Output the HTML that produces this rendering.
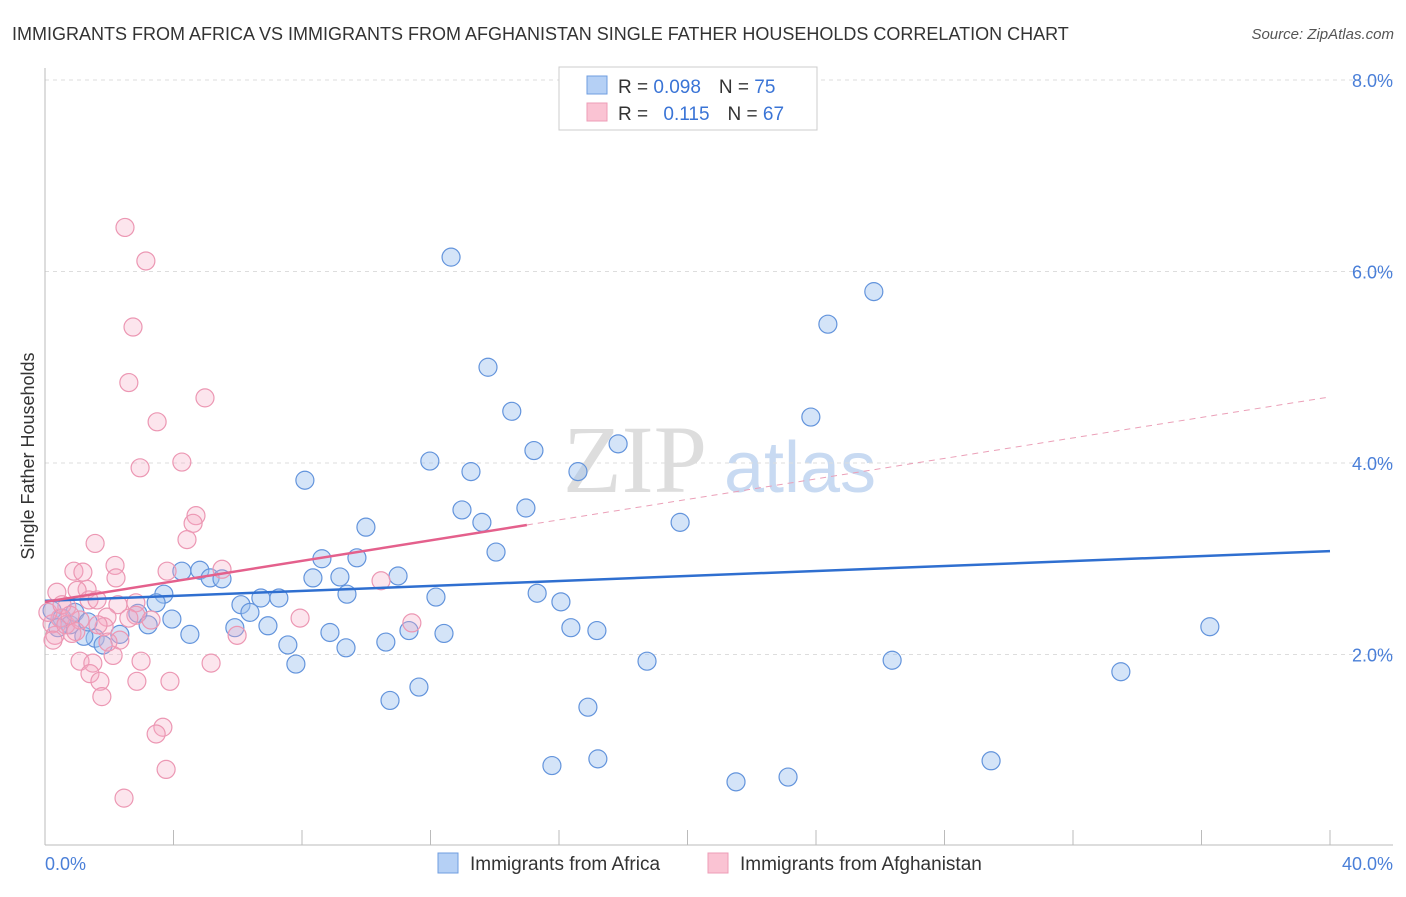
<!DOCTYPE html>
<html><head><meta charset="utf-8"><style>
body{margin:0;background:#fff;font-family:"Liberation Sans",sans-serif;}
</style></head><body>
<svg width="1406" height="892" xmlns="http://www.w3.org/2000/svg" style="font-family:'Liberation Sans',sans-serif">
<text x="12" y="40" font-size="18" fill="#333">IMMIGRANTS FROM AFRICA VS IMMIGRANTS FROM AFGHANISTAN SINGLE FATHER HOUSEHOLDS CORRELATION CHART</text>
<text x="1394" y="39" font-size="15" fill="#555" font-style="italic" text-anchor="end">Source: ZipAtlas.com</text>
<g><text x="635" y="492" font-size="96" fill="#ddd" font-family="Liberation Serif,serif" text-anchor="middle">ZIP</text><text x="800" y="492" font-size="72" fill="#c8daf2" text-anchor="middle">atlas</text></g>
<g id="grid"></g><g id="axes"></g><g id="pts"></g><g id="trends"></g>
<text transform="translate(34,456) rotate(-90)" font-size="18" fill="#333" text-anchor="middle">Single Father Households</text>
<text x="45" y="870" font-size="18" fill="#4a7fd8">0.0%</text>
<text x="1393" y="870" font-size="18" fill="#4a7fd8" text-anchor="end">40.0%</text>
<g>
<rect x="559" y="67" width="258" height="63" fill="#fff" stroke="#ccc"/>
<rect x="587" y="76" width="20" height="18" fill="#b5d0f5" stroke="#6f9ee0"/>
<rect x="587" y="103" width="20" height="18" fill="#fac3d3" stroke="#ee9db7"/>
<text x="618" y="93" font-size="19" fill="#333">R = <tspan fill="#3a74d6">0.098</tspan><tspan dx="18">N = </tspan><tspan fill="#3a74d6">75</tspan></text>
<text x="618" y="120" font-size="19" fill="#333">R = <tspan dx="10" fill="#3a74d6">0.115</tspan><tspan dx="18">N = </tspan><tspan fill="#3a74d6">67</tspan></text>
</g>
<g>
<rect x="438" y="853" width="20" height="20" fill="#b5d0f5" stroke="#6f9ee0"/>
<text x="470" y="870" font-size="19" fill="#333">Immigrants from Africa</text>
<rect x="708" y="853" width="20" height="20" fill="#fac3d3" stroke="#ee9db7"/>
<text x="740" y="870" font-size="19" fill="#333">Immigrants from Afghanistan</text>
</g>
</svg>
<script>
const yTicks=[2,4,6,8];
const yTickLabels=["2.0%","4.0%","6.0%","8.0%"];
const xTicks=[0,4,8,12,16,20,24,28,32,36,40];
const blueX=[12.64,25.8,24.37,13.79,14.53,23.84,17.84,15.22,11.98,13.26,16.59,8.09,12.98,14.97,13.6,19.77,9.99,14.04,8.62,9.71,4.26,4.82,5.14,5.51,8.34,9.18,10.99,3.7,9.4,15.32,12.17,6.72,7.28,6.1,16.06,3.46,6.38,3.95,2.89,3.21,6.94,5.91,16.37,17.18,11.33,36.26,4.51,8.87,12.42,2.33,1.56,1.21,7.56,10.61,9.37,1.81,7.81,18.74,26.37,33.49,11.64,10.74,16.9,15.78,17.21,21.51,23.13,29.45,0.22,0.53,0.78,0.4,0.93,1.34];
const blueY=[6.15,5.79,5.45,5.0,4.54,4.48,4.2,4.13,4.02,3.91,3.91,3.82,3.51,3.53,3.38,3.38,3.33,3.07,3.0,3.01,2.87,2.88,2.8,2.79,2.8,2.81,2.82,2.63,2.63,2.64,2.6,2.59,2.59,2.52,2.55,2.54,2.44,2.37,2.43,2.31,2.3,2.28,2.28,2.25,2.25,2.29,2.21,2.23,2.22,2.21,2.17,2.19,2.1,2.13,2.07,2.1,1.9,1.93,1.94,1.82,1.66,1.52,1.45,0.84,0.91,0.67,0.72,0.89,2.46,2.38,2.31,2.28,2.44,2.34];
const pinkX=[2.49,3.14,2.74,2.61,4.98,3.49,4.26,2.96,4.7,4.61,4.42,1.56,2.18,5.51,3.8,0.9,1.18,2.21,10.46,0.37,1.31,1.0,1.37,1.62,2.83,2.27,0.68,7.94,2.83,3.3,11.42,1.93,2.61,1.84,5.98,2.33,0.84,0.31,0.22,0.47,0.65,1.09,1.65,2.12,2.99,1.09,1.49,5.17,1.4,1.71,2.86,3.89,1.77,3.67,3.46,3.77,2.46,0.09,0.25,0.53,0.78,0.96,1.96];
const pinkY=[6.46,6.11,5.42,4.84,4.68,4.43,4.01,3.95,3.45,3.37,3.2,3.16,2.93,2.89,2.87,2.87,2.86,2.8,2.77,2.65,2.68,2.67,2.57,2.57,2.54,2.52,2.5,2.38,2.41,2.36,2.33,2.39,2.38,2.29,2.2,2.15,2.22,2.2,2.32,2.38,2.31,2.36,2.31,1.99,1.93,1.93,1.91,1.91,1.8,1.72,1.72,1.72,1.56,1.24,1.17,0.8,0.5,2.44,2.15,2.52,2.41,2.24,2.13];
const blueTrend=[2.56,3.08];
const pinkTrend=[2.55,4.69];
const pinkSolidEnd=15;
const NS="http://www.w3.org/2000/svg";
const X=v=>45+v*32.125, Y=v=>846-v*95.75;
function mk(tag,attrs,parent){const e=document.createElementNS(NS,tag);for(const k in attrs)e.setAttribute(k,attrs[k]);document.getElementById(parent).appendChild(e);return e;}
yTicks.forEach((t,i)=>{
 const l=mk('line',{x1:45,x2:1393,y1:Y(t),y2:Y(t),stroke:'#ddd','stroke-dasharray':'4,4'},'grid');
 
 
 const tx=mk('text',{x:1393,y:Y(t)+7,'font-size':18,fill:'#4a7fd8','text-anchor':'end'},'grid');
 tx.textContent=yTickLabels[i];
 
 
});
let ax=mk('line',{x1:45,x2:45,y1:68,y2:845,stroke:'#bbb'},'axes');


ax=mk('line',{x1:45,x2:1393,y1:845,y2:845,stroke:'#bbb'},'axes');


xTicks.forEach(t=>{const l=mk('line',{x1:X(t),x2:X(t),y1:830,y2:845,stroke:'#bbb'},'axes');
 
 });
blueX.forEach((v,i)=>{const c=mk('circle',{cx:X(v),cy:Y(blueY[i]),r:9,fill:'rgba(160,195,240,0.45)',stroke:'#6394dc','stroke-width':1.2},'pts');
 
 });
pinkX.forEach((v,i)=>{const c=mk('circle',{cx:X(v),cy:Y(pinkY[i]),r:9,fill:'rgba(245,170,195,0.3)',stroke:'#ec97b3','stroke-width':1.2},'pts');
 
 });
let t=mk('line',{x1:X(0),x2:X(40),y1:Y(blueTrend[0]),y2:Y(blueTrend[1]),stroke:'#2f6fd0','stroke-width':2.5},'trends');


const pv=x=>pinkTrend[0]+(pinkTrend[1]-pinkTrend[0])*x/40;
t=mk('line',{x1:X(0),x2:X(pinkSolidEnd),y1:Y(pv(0)),y2:Y(pv(pinkSolidEnd)),stroke:'#e4608c','stroke-width':2.5},'trends');


t=mk('line',{x1:X(pinkSolidEnd),x2:X(40),y1:Y(pv(pinkSolidEnd)),y2:Y(pv(40)),stroke:'#eba0b8','stroke-width':1,'stroke-dasharray':'6,5'},'trends');


</script>
</body></html>
